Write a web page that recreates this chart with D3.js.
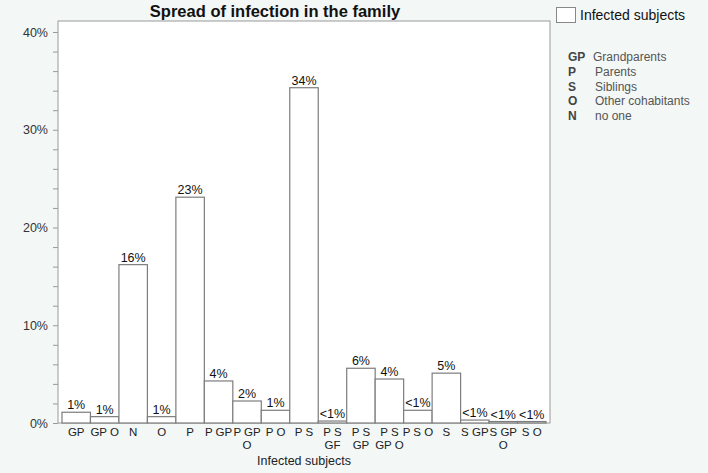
<!DOCTYPE html>
<html>
<head>
<meta charset="utf-8">
<script src="https://cdn.jsdelivr.net/npm/d3@7"></script>
<style>
  body { margin: 0; background: #f3f7f6; }
  svg { display: block; font-family: "Liberation Sans", Arial, Helvetica, sans-serif; }
</style>
</head>
<body>
<div id="chart"></div>
<script>
// Spread of infection in the family

const width = 708,
    height = 473;

// plot box (inner white area)
const plot = {left: 58, right: 550, top: 21, bottom: 423};

// data
const categories = ["GP", "GP O", "N", "O", "P", "P GP", "P GP O", "P O", "P S", "P S GF",
  "P S GP", "P S GP O", "P S O", "S", "S GP", "S GP O", "S O"];
const tickLabels = ["GP", "GP O", "N", "O", "P", "P GP", "P GP|O", "P O", "P S", "P S|GF",
  "P S|GP", "P S|GP O", "P S O", "S", "S GP", "S GP|O", "S O"];
const values = [1.1, 0.65, 16.2, 0.65, 23.1, 4.3, 2.25, 1.3, 34.3, 0.2,
  5.6, 4.5, 1.3, 5.1, 0.3, 0.15, 0.15];
const valueLabels = ["1%", "1%", "16%", "1%", "23%", "4%", "2%", "1%", "34%", "<1%",
  "6%", "4%", "<1%", "5%", "<1%", "<1%", "<1%"];
const yTicks = [0, 10, 20, 30, 40];

const legendCodes = ["GP", "P", "S", "O", "N"];
const legendNames = ["Grandparents", "Parents", "Siblings", "Other cohabitants", "no one"];

const svg = d3.select("#chart")
  .append("svg")
    .attr("width", width)
    .attr("height", height);

// scales
const x = d3.scaleBand()
  .domain(categories)
  .range([plot.left, plot.right])
  .paddingInner(0)
  .paddingOuter(0.14);

const y = d3.scaleLinear()
  .domain([0, 40])
  .range([plot.bottom, plot.bottom - 391]);

// white plot area
svg.append("rect")
  .attr("x", plot.left)
  .attr("y", plot.top)
  .attr("width", plot.right - plot.left)
  .attr("height", plot.bottom - plot.top)
  .attr("fill", "white")
  .attr("stroke", "#9a9a9a")
  .attr("stroke-width", 1);

// title
svg.append("text")
  .attr("x", (plot.left + plot.right) / 2 - 29)
  .attr("y", 17)
  .attr("text-anchor", "middle")
  .attr("font-size", "16.5px")
  .attr("font-weight", "bold")
  .attr("fill", "#111")
  .text("Spread of infection in the family");

// y axis: major ticks with labels, minor every 2%
const yAxis = d3.axisLeft(y)
  .tickValues(d3.range(0, 41, 2))
  .tickSize(5)
  .tickFormat(d => yTicks.includes(d) ? d + "%" : "");

const gy = svg.append("g")
  .attr("transform", `translate(${plot.left},0)`)
  .call(yAxis);
gy.select(".domain").remove();
gy.selectAll("line").attr("stroke", "#9a9a9a");
gy.selectAll("text")
  .attr("font-size", "12.5px")
  .attr("fill", "#333")
  .attr("x", -10);

// bars
svg.selectAll("rect.bar")
  .data(values)
  .join("rect")
    .attr("class", "bar")
    .attr("x", (d, i) => x(categories[i]))
    .attr("y", d => y(d))
    .attr("width", x.bandwidth())
    .attr("height", d => y(0) - y(d))
    .attr("fill", "white")
    .attr("stroke", "#7d7d7d")
    .attr("stroke-width", 1.2);

// value labels on top of bars
svg.selectAll("text.vlab")
  .data(values)
  .join("text")
    .attr("class", "vlab")
    .attr("x", (d, i) => x(categories[i]) + x.bandwidth() / 2)
    .attr("y", d => y(d) - 3)
    .attr("text-anchor", "middle")
    .attr("font-size", "12.5px")
    .attr("fill", "#111")
    .text((d, i) => valueLabels[i]);

// x tick labels (wrapped on "|")
svg.selectAll("text.xlab")
  .data(tickLabels)
  .join("text")
    .attr("class", "xlab")
    .attr("text-anchor", "middle")
    .attr("font-size", "11.5px")
    .attr("fill", "#222")
    .each(function (d, i) {
      const cx = x(categories[i]) + x.bandwidth() / 2;
      d3.select(this)
        .selectAll("tspan")
        .data(d.split("|"))
        .join("tspan")
          .attr("x", cx)
          .attr("y", (t, j) => 436 + j * 13)
          .text(t => t);
    });

// x axis title
svg.append("text")
  .attr("x", (plot.left + plot.right) / 2)
  .attr("y", 465)
  .attr("text-anchor", "middle")
  .attr("font-size", "12.5px")
  .attr("fill", "#222")
  .text("Infected subjects");

// legend
svg.append("rect")
  .attr("x", 556.5)
  .attr("y", 7.5)
  .attr("width", 19)
  .attr("height", 15)
  .attr("fill", "white")
  .attr("stroke", "#888");

svg.append("text")
  .attr("x", 580)
  .attr("y", 20)
  .attr("font-size", "14px")
  .attr("fill", "#111")
  .text("Infected subjects");

const leg = svg.append("g");
leg.selectAll("text.code")
  .data(legendCodes)
  .join("text")
    .attr("class", "code")
    .attr("x", 568)
    .attr("y", (d, i) => 61 + i * 14.8)
    .attr("font-size", "12px")
    .attr("font-weight", "bold")
    .attr("fill", "#444")
    .text(d => d);

leg.selectAll("text.name")
  .data(legendNames)
  .join("text")
    .attr("class", "name")
    .attr("x", (d, i) => i < 1 ? 593 : 595)
    .attr("y", (d, i) => 61 + i * 14.8)
    .attr("font-size", "12px")
    .attr("fill", "#555")
    .text(d => d);
</script>
</body>
</html>
